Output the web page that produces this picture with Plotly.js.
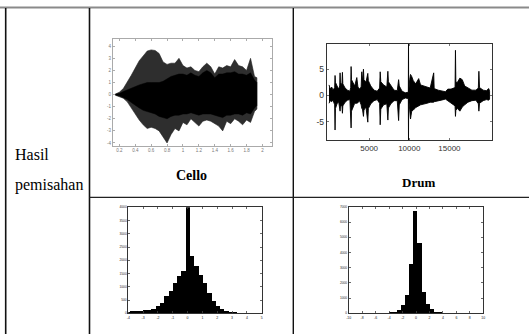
<!DOCTYPE html>
<html><head><meta charset="utf-8">
<script src="https://cdn.plot.ly/plotly-3.0.1.min.js"></script>
<style>html,body{margin:0;padding:0;background:#fff}#chart{width:529px;height:334px}</style>
</head><body><div id="chart"></div>
<script>
// ---------- DATA ----------
// Cello waveform (time, envelope values)
const celloT = [0.15,0.20,0.25,0.30,0.35,0.40,0.45,0.50,0.55,0.60,0.65,0.70,0.75,0.80,0.85,0.90,0.95,1.00,1.05,1.10,1.15,1.20,1.25,1.30,1.35,1.40,1.45,1.50,1.55,1.60,1.65,1.70,1.75,1.80,1.85,1.90,1.93];
const celloUpper = [0.05,0.2,0.5,1.0,1.6,2.2,2.8,3.2,3.6,3.7,3.65,3.4,2.7,2.5,2.6,2.6,3.0,2.4,2.2,2.3,2.0,1.9,2.3,2.6,2.3,1.7,2.3,2.2,2.4,2.3,2.9,2.4,2.3,2.0,3.0,1.5,1.4];
const celloLower = [-0.05,-0.15,-0.3,-0.6,-1.0,-1.6,-2.1,-2.5,-2.8,-2.7,-2.8,-3.0,-3.5,-4.0,-3.3,-2.8,-3.0,-2.3,-2.5,-2.0,-2.3,-2.6,-2.2,-2.1,-2.2,-2.4,-2.6,-3.0,-2.2,-2.4,-2.0,-2.2,-2.5,-2.1,-2.3,-1.4,-1.2];
const celloCoreUpper = [0.03,0.1,0.25,0.4,0.55,0.7,0.8,0.9,1.0,1.0,1.0,1.0,1.1,1.3,1.5,1.6,1.7,1.7,1.6,1.8,1.6,1.5,1.8,2.0,1.8,1.4,1.7,1.7,1.8,1.8,1.9,1.7,1.7,1.6,1.8,1.2,1.0];
const celloCoreLower = [-0.03,-0.1,-0.25,-0.4,-0.65,-0.9,-1.1,-1.3,-1.4,-1.5,-1.6,-1.8,-1.9,-2.0,-1.8,-1.7,-1.7,-1.6,-1.6,-1.5,-1.6,-1.7,-1.6,-1.6,-1.6,-1.7,-1.8,-1.9,-1.7,-1.7,-1.6,-1.6,-1.7,-1.5,-1.6,-1.1,-0.9];

// Drum waveform (sample index, envelope values)
const drumN = [0,150,330,500,700,750,800,1000,1200,1330,1375,1420,1600,1670,1720,2000,2300,2600,2700,2750,2800,3000,3200,3460,3600,3800,4000,4080,4150,4290,4350,4600,4830,4900,5200,5600,6000,6300,6375,6450,6800,7200,7330,7400,7700,8100,8500,8670,8750,9100,9500,9880,9900,9920,10050,10150,10300,10500,10800,11170,11400,11800,12200,12600,13040,13100,13600,14000,14500,14800,15200,15700,15750,15800,16000,16300,16600,16900,17300,17800,18300,18600,18670,18750,19200,19600,19900,20000];
const drumUpper = [2.0,1.2,1.6,1.0,1.5,3.8,2.5,1.8,1.2,1.8,4.3,2.5,2.0,4.4,2.2,1.4,1.0,0.8,1.5,5.5,3.0,2.4,1.8,3.4,1.6,1.2,1.6,4.5,2.6,5.0,3.0,2.5,4.2,2.8,1.8,1.0,0.8,1.4,4.5,2.6,2.0,1.6,4.6,2.6,1.8,1.0,0.9,3.0,1.8,0.8,0.5,0.6,9.9,0.6,3.0,4.0,3.6,2.8,2.2,3.2,2.0,1.8,1.6,1.4,4.3,1.3,1.0,0.9,0.7,1.2,1.2,1.5,8.6,2.5,2.5,3.3,3.0,1.8,1.4,1.0,1.0,1.4,4.6,1.5,1.0,0.9,1.3,0.8];
const drumLower = [-1.5,-1.0,-1.2,-0.9,-1.8,-6.6,-2.5,-1.6,-1.2,-2.0,-3.0,-2.2,-1.8,-3.4,-2.0,-1.3,-0.9,-0.8,-1.5,-6.2,-3.0,-2.2,-1.5,-1.5,-1.4,-1.0,-1.8,-2.5,-2.4,-4.0,-2.8,-2.2,-5.1,-2.5,-1.6,-1.0,-0.8,-1.5,-5.6,-2.6,-1.8,-1.6,-4.7,-2.4,-1.6,-1.0,-1.0,-4.8,-1.8,-0.8,-0.5,-0.6,-8.6,-0.6,-3.0,-4.5,-3.0,-2.8,-2.3,-2.0,-1.8,-1.6,-1.5,-1.3,-1.3,-1.2,-1.0,-0.9,-0.7,-1.0,-1.5,-2.0,-4.0,-2.8,-2.5,-3.0,-2.2,-1.8,-1.3,-1.0,-0.9,-1.6,-3.0,-1.5,-1.0,-0.8,-0.9,-0.7];

// Cello histogram
const celloBins = [-4.04,-3.75,-3.46,-3.17,-2.88,-2.59,-2.30,-2.01,-1.72,-1.43,-1.14,-0.85,-0.56,-0.27,0.02,0.31,0.60,0.89,1.18,1.47,1.76,2.05,2.34,2.63,2.92,3.21,3.50,3.79,4.08,4.37,4.66,4.95];
const celloCounts = [40,70,75,85,120,130,180,290,380,660,860,1160,1410,1600,6000,2150,1770,1450,1140,760,470,280,150,90,60,40,30,20,15,10,8,5];

// Drum histogram
const drumBins = [-4.28,-3.68,-3.08,-2.48,-1.88,-1.28,-0.68,-0.08,0.52,1.12,1.72,2.32,2.92,3.52,4.12];
const drumCounts = [44,66,110,220,550,1210,3240,6720,4630,1430,620,290,110,66,20];

// Tick labels
const celloTimeTicks = [0.2,0.4,0.6,0.8,1,1.2,1.4,1.6,1.8,2];
const celloAmpTicks = [-4,-3,-2,-1,0,1,2,3,4];
const drumSampleTicks = [5000,10000,15000];
const drumAmpTicks = [-5,0,5];
const celloHistXTicks = [-4,-3,-2,-1,0,1,2,3,4,5];
const celloHistYTicks = [0,500,1000,1500,2000,2500,3000,3500,4000];
const drumHistXTicks = [-10,-8,-6,-4,-2,0,2,4,6,8,10];
const drumHistYTicks = [0,1000,2000,3000,4000,5000,6000,7000];

// ---------- LAYOUT HELPERS ----------
const W = 529, H = 334;
const px = v => v / W;
const py = v => 1 - v / H;
const SERIF = 'Liberation Serif';

function poly(x, up, lo) {
  return { x: x.concat(x.slice().reverse()), y: up.concat(lo.slice().reverse()) };
}

const co = poly(celloT, celloUpper, celloLower);
const cc = poly(celloT, celloCoreUpper, celloCoreLower);
const dr = poly(drumN, drumUpper, drumLower);

const traces = [
  { x: co.x, y: co.y, type: 'scatter', mode: 'lines', fill: 'toself', fillcolor: '#2e2e2e',
    line: { color: '#222', width: 0.6 }, xaxis: 'x', yaxis: 'y', hoverinfo: 'skip' },
  { x: cc.x, y: cc.y, type: 'scatter', mode: 'lines', fill: 'toself', fillcolor: '#000',
    line: { color: '#000', width: 0.5 }, xaxis: 'x', yaxis: 'y', hoverinfo: 'skip' },
  { x: dr.x, y: dr.y, type: 'scatter', mode: 'lines', fill: 'toself', fillcolor: '#000',
    line: { color: '#000', width: 0.9 }, xaxis: 'x2', yaxis: 'y2', hoverinfo: 'skip' },
  { x: celloBins, y: celloCounts, type: 'bar', width: 0.29, marker: { color: '#000', line: { width: 0 } },
    xaxis: 'x3', yaxis: 'y3', hoverinfo: 'skip' },
  { x: drumBins, y: drumCounts, type: 'bar', width: 0.6, marker: { color: '#000', line: { width: 0 } },
    xaxis: 'x4', yaxis: 'y4', hoverinfo: 'skip' }
];

function axis(domain, range, ticks, anchor, o) {
  o = o || {};
  return {
    domain: domain, range: range, anchor: anchor,
    tickmode: 'array', tickvals: ticks, ticktext: ticks.map(String),
    ticks: 'inside', ticklen: o.ticklen || 2, tickwidth: 0.8, tickcolor: o.tickcolor || '#444',
    showline: true, linecolor: o.linecolor || '#444', linewidth: o.linewidth || 1, mirror: 'ticks',
    showgrid: false, zeroline: false, fixedrange: true,
    tickfont: { family: 'Liberation Sans', size: o.fs || 5, color: o.fc || '#444' },
    automargin: false
  };
}

const layout = {
  width: W, height: H,
  margin: { l: 0, r: 0, t: 0, b: 0, pad: 0 },
  paper_bgcolor: '#fff', plot_bgcolor: '#fff',
  showlegend: false, bargap: 0,
  xaxis:  axis([px(113), px(272)], [0.12, 2.12], celloTimeTicks, 'y',  { fs: 4.5, fc: '#777', linecolor: '#aaa', tickcolor: '#999' }),
  yaxis:  axis([py(146), py(39)], [-4.25, 4.6], celloAmpTicks, 'x',   { fs: 4.5, fc: '#777', linecolor: '#aaa', tickcolor: '#999' }),
  xaxis2: axis([px(326.7), px(492.3)], [-290, 20340], drumSampleTicks, 'y2', { fs: 8, fc: '#333', linecolor: '#333', tickcolor: '#555' }),
  yaxis2: axis([py(140), py(44)], [-8.5, 9.8], drumAmpTicks, 'x2', { fs: 8.5, fc: '#333', linecolor: '#333', tickcolor: '#555' }),
  xaxis3: axis([px(128.3), px(261.7)], [-4, 5], celloHistXTicks, 'y3', { fs: 3.5, fc: '#222', linecolor: '#333' }),
  yaxis3: axis([py(313.3), py(207.3)], [0, 4000], celloHistYTicks, 'x3', { fs: 3.2, fc: '#222', linecolor: '#333' }),
  xaxis4: axis([px(348.7), px(483.3)], [-10, 10], drumHistXTicks, 'y4', { fs: 3.5, fc: '#222', linecolor: '#333' }),
  yaxis4: axis([py(313.3), py(207)], [0, 7000], drumHistYTicks, 'x4', { fs: 3.2, fc: '#222', linecolor: '#333' }),
  shapes: [
    { type: 'line', xref: 'paper', yref: 'paper', x0: 0, x1: 1, y0: py(7.5), y1: py(7.5), line: { color: '#8a8a8a', width: 2 } },
    { type: 'line', xref: 'paper', yref: 'paper', x0: px(5.7), x1: px(5.7), y0: py(8), y1: 0, line: { color: '#111', width: 1.6 } },
    { type: 'line', xref: 'paper', yref: 'paper', x0: px(89.5), x1: px(89.5), y0: py(8), y1: 0, line: { color: '#111', width: 1.6 } },
    { type: 'line', xref: 'paper', yref: 'paper', x0: px(293.3), x1: px(293.3), y0: py(8), y1: 0, line: { color: '#111', width: 1.4 } },
    { type: 'line', xref: 'paper', yref: 'paper', x0: px(89.5), x1: 1, y0: py(197.3), y1: py(197.3), line: { color: '#222', width: 1.3 } }
  ],
  annotations: [
    { text: 'Hasil', xref: 'paper', yref: 'paper', x: px(12.5), y: py(154.5), xanchor: 'left', yanchor: 'middle', showarrow: false,
      font: { family: SERIF, size: 16, color: '#000' } },
    { text: 'pemisahan', xref: 'paper', yref: 'paper', x: px(12.5), y: py(184.5), xanchor: 'left', yanchor: 'middle', showarrow: false,
      font: { family: SERIF, size: 16, color: '#000' } },
    { text: '<b>Cello</b>', xref: 'paper', yref: 'paper', x: px(191.5), y: py(175.5), xanchor: 'center', yanchor: 'middle', showarrow: false,
      font: { family: SERIF, size: 14, color: '#000' } },
    { text: '<b>Drum</b>', xref: 'paper', yref: 'paper', x: px(418), y: py(182), xanchor: 'center', yanchor: 'middle', showarrow: false,
      font: { family: SERIF, size: 13, color: '#000' } }
  ]
};

Plotly.newPlot('chart', traces, layout, { staticPlot: true, displayModeBar: false });
</script></body></html>
